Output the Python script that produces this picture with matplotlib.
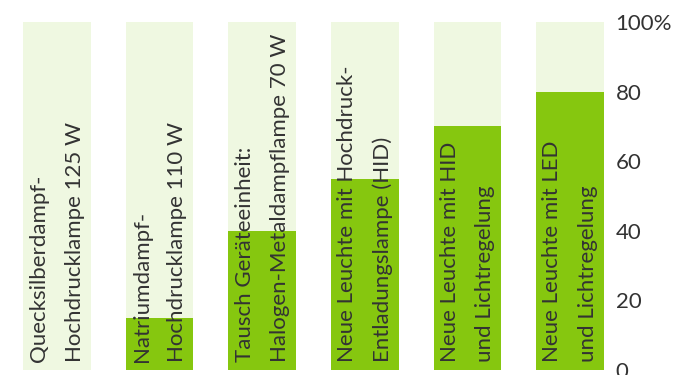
import matplotlib.pyplot as plt
import matplotlib.transforms as mtransforms

labels = [
    "Quecksilberdampf-\nHochdrucklampe 125 W",
    "Natriumdampf-\nHochdrucklampe 110 W",
    "Tausch Geräteeinheit:\nHalogen-Metaldampflampe 70 W",
    "Neue Leuchte mit Hochdruck-\nEntladungslampe (HID)",
    "Neue Leuchte mit HID\nund Lichtregelung",
    "Neue Leuchte mit LED\nund Lichtregelung",
]
values = [0, 15, 40, 55, 70, 80]
yticks = [0, 20, 40, 60, 80, 100]
ytick_labels = ["0", "20", "40", "60", "80", "100%"]

light = "#eff8e1"
green = "#86c70f"
text_col = "#333333"

plt.rcParams["font.family"] = ["Lato", "DejaVu Sans"]

W, H = 673, 375
fig = plt.figure(figsize=(W / 100, H / 100), dpi=100)
ax = fig.add_axes([0, (H - 370) / H, 610 / W, (370 - 22) / H])

x = list(range(len(values)))
ax.bar(x, [100] * len(values), width=0.66, color=light, zorder=1)
ax.bar(x, values, width=0.66, color=green, zorder=2)

ax.set_xlim(-0.556, 5.39)
ax.set_ylim(0, 100)

offset = mtransforms.offset_copy(ax.transData, fig=fig, x=0, y=8, units="dots")
for xi, lab in zip(x, labels):
    ax.text(xi, 0, lab, rotation=90, ha="center", va="bottom",
            multialignment="left", fontsize=16, color=text_col,
            linespacing=1.95, transform=offset, zorder=3)

ax.yaxis.tick_right()
ax.set_yticks(yticks)
ax.set_yticklabels(ytick_labels)
ax.tick_params(axis="y", length=0, pad=4, labelsize=16, labelcolor=text_col)
ax.set_xticks([])
for s in ax.spines.values():
    s.set_visible(False)

fig.savefig("out.png", dpi=100)
